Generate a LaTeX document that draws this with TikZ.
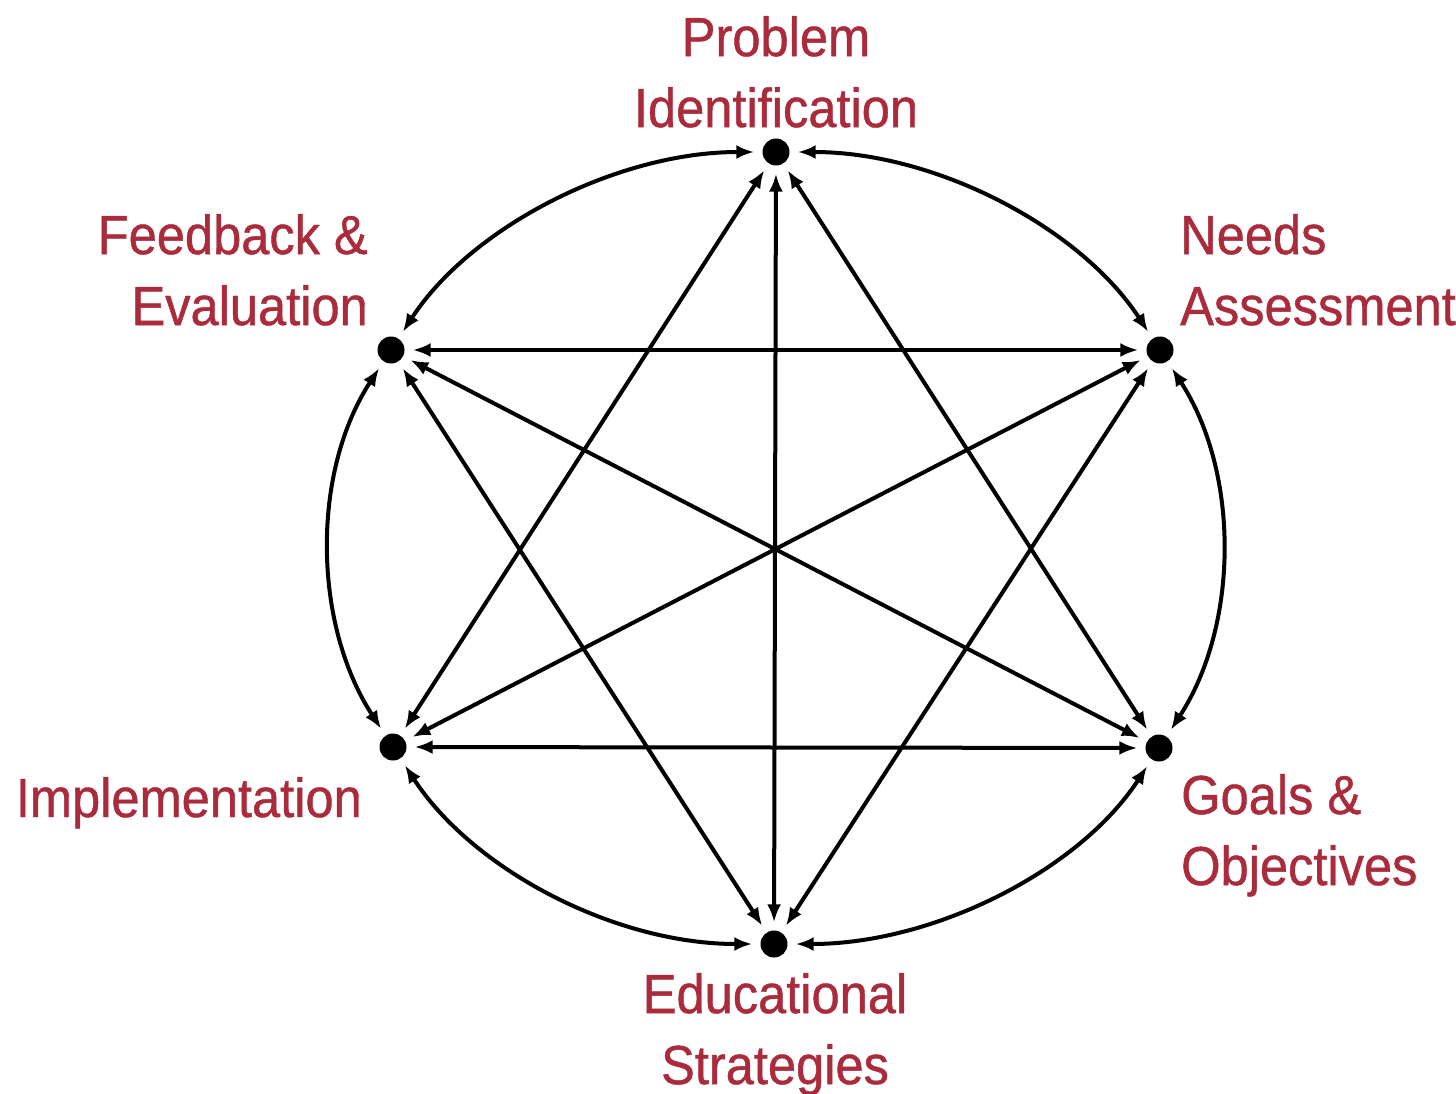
\documentclass[tikz,border=0pt]{standalone}
\usepackage{fontspec}
\setmainfont{Liberation Sans}
\newfontfamily\labfont[FakeStretch=0.92,FakeBold=0.8]{Liberation Sans}
\usetikzlibrary{arrows.meta}
\definecolor{labred}{RGB}{170,44,60}
\tikzset{
  dot/.style={circle, fill=black, draw=none, minimum size=27pt, inner sep=0pt},
  lab/.style={text=labred, inner sep=0pt, font=\labfont\fontsize{55}{71}\selectfont},
  link/.style={line width=4pt, {Latex[length=18pt,width=14pt]}-{Latex[length=18pt,width=14pt]}, shorten >=8pt, shorten <=8pt}
}
\begin{document}
\begin{tikzpicture}[x=1pt, y=-1pt]
\useasboundingbox (0,0) rectangle (1456,1094);
% dots
\node[dot] (P) at (776,152) {};
\node[dot] (N) at (1160,350) {};
\node[dot] (G) at (1159,748) {};
\node[dot] (E) at (774,944) {};
\node[dot] (I) at (393,747) {};
\node[dot] (F) at (391,350) {};
% labels
\node[lab, anchor=north, align=center] (tP) at (776,16) {Problem\\Identification};
\node[lab, anchor=north east, align=right] (tF) at (368,214) {Feedback \&\\Evaluation};
\node[lab, anchor=north west, align=left] (tN) at (1180,214) {Needs\\Assessment};
\node[lab, anchor=north west, align=left] (tG) at (1181,774) {Goals \&\\Objectives};
\node[lab, anchor=base east] (tI) at (362,817) {Implementation};
\node[lab, anchor=north, align=center] (tE) at (775,973) {Educational\\Strategies};
% outer arcs
\draw[link] (P) .. controls +(159,0) and +(-80,-123) .. (N);
\draw[link] (N) .. controls +(80,123) and +(80,-123) .. (G);
\draw[link] (G) .. controls +(-80,123) and +(159,0) .. (E);
\draw[link] (E) .. controls +(-159,0) and +(80,123) .. (I);
\draw[link] (I) .. controls +(-80,-123) and +(-80,123) .. (F);
\draw[link] (F) .. controls +(80,-123) and +(-159,0) .. (P);
% inner straight links
\draw[link] (P) -- (E);
\draw[link] (P) -- (I);
\draw[link] (P) -- (G);
\draw[link] (F) -- (N);
\draw[link] (F) -- (G);
\draw[link] (F) -- (E);
\draw[link] (N) -- (I);
\draw[link] (N) -- (E);
\draw[link] (I) -- (G);
\end{tikzpicture}
\end{document}
